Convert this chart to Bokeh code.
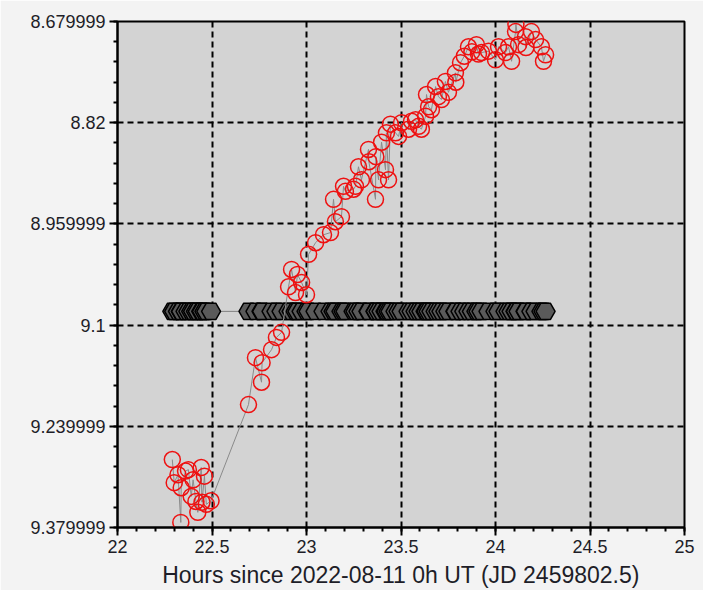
import numpy as np
from bokeh.plotting import figure
from bokeh.models import Range1d, FixedTicker, ColumnDataSource
from bokeh.embed import file_html
from bokeh.resources import INLINE

# ---- data ----
hours = [22.29, 22.30, 22.32, 22.335, 22.337, 22.36, 22.375, 22.39, 22.40, 22.415,
         22.425, 22.443, 22.447, 22.46, 22.47, 22.495,
         22.693, 22.730, 22.762, 22.765, 22.815, 22.841, 22.868, 22.905, 22.921,
         22.942, 22.952, 22.974,
         23.000, 23.011, 23.048, 23.090, 23.127, 23.143, 23.153, 23.185, 23.196,
         23.206, 23.249, 23.259, 23.275, 23.291, 23.328, 23.330, 23.365, 23.367,
         23.381, 23.397, 23.418, 23.423, 23.434, 23.444, 23.471, 23.487, 23.503,
         23.540, 23.556, 23.577, 23.593, 23.608, 23.630, 23.635, 23.646, 23.661,
         23.683, 23.698, 23.714, 23.735, 23.751, 23.788, 23.790, 23.815, 23.835,
         23.857, 23.875, 23.899, 23.910, 23.926, 23.963, 24.000, 24.016, 24.053,
         24.069, 24.085, 24.106, 24.108, 24.122, 24.159, 24.161, 24.190, 24.212,
         24.243, 24.254, 24.265]
var_mag = [9.286, 9.318, 9.307, 9.373, 9.325, 9.302, 9.300, 9.337, 9.314, 9.344,
           9.359, 9.297, 9.345, 9.309, 9.348, 9.343,
           9.210, 9.145, 9.179, 9.152, 9.134, 9.117, 9.110, 9.047, 9.023,
           9.055, 9.030, 9.041,
           9.058, 9.002, 8.986, 8.975, 8.972, 8.926, 8.957, 8.950, 8.908,
           8.915, 8.912, 8.908, 8.881, 8.899, 8.857, 8.874, 8.926, 8.867,
           8.899, 8.847, 8.885, 8.834, 8.899, 8.822, 8.834, 8.839, 8.820,
           8.829, 8.818, 8.816, 8.825, 8.829, 8.811, 8.781, 8.798, 8.802,
           8.770, 8.784, 8.788, 8.763, 8.778, 8.751, 8.764, 8.737, 8.728,
           8.715, 8.722, 8.712, 8.725, 8.723, 8.721, 8.733, 8.715, 8.723,
           8.715, 8.735, 8.694, 8.684, 8.712, 8.701, 8.716, 8.694, 8.705,
           8.715, 8.735, 8.726]
comp_mag = [9.081] * len(hours)

x_ticks = [22, 22.5, 23, 23.5, 24, 24.5, 25]
y_ticks = [8.68, 8.82, 8.96, 9.1, 9.24, 9.38]
y_tick_labels = ["8.679999", "8.82", "8.959999", "9.1", "9.239999", "9.379999"]
x_label = "Hours since 2022-08-11 0h UT (JD 2459802.5)"

FONT = "Liberation Sans"

p = figure(width=703, height=590, output_backend="svg", toolbar_location=None,
           x_range=Range1d(22, 25), y_range=Range1d(9.38, 8.68),
           min_border_left=117, min_border_top=21, min_border_right=19,
           min_border_bottom=56)
p.background_fill_color = "#d3d3d3"
p.border_fill_color = "#f3f3f3"
p.outline_line_color = "black"
p.outline_line_width = 2

x_minor = [v for v in np.round(np.arange(22, 25.0001, 0.1), 4)]
y_minor = [v for v in np.round(np.arange(8.68, 9.38001, 0.028), 4)]
p.xaxis.ticker = FixedTicker(ticks=x_ticks, minor_ticks=x_minor)
p.yaxis.ticker = FixedTicker(ticks=y_ticks, minor_ticks=y_minor)
p.yaxis.major_label_overrides = {t: l for t, l in zip(y_ticks, y_tick_labels)}
p.xaxis.axis_label = x_label

for ax in (p.xaxis, p.yaxis):
    ax.axis_line_color = "black"
    ax.axis_line_width = 2
    ax.major_tick_line_color = "black"
    ax.minor_tick_line_color = "black"
    ax.major_tick_line_width = 2
    ax.minor_tick_line_width = 2
    ax.major_tick_in = 0
    ax.minor_tick_in = 0
    ax.major_tick_out = 8
    ax.minor_tick_out = 4
    ax.major_label_text_font = FONT
    ax.major_label_text_font_size = "18px"
    ax.major_label_text_color = "#1e1e28"
    ax.major_label_standoff = 4
p.xaxis.axis_label_text_font = FONT
p.xaxis.axis_label_text_font_size = "23px"
p.xaxis.axis_label_text_font_style = "normal"
p.xaxis.axis_label_text_color = "#1e1e28"
p.xaxis.axis_label_standoff = 6

for g in (p.xgrid, p.ygrid):
    g.grid_line_color = "black"
    g.grid_line_dash = "6 4"
    g.grid_line_width = 2

src = ColumnDataSource(dict(t=hours, v=var_mag, c=comp_mag))

p.line("t", "c", source=src, line_color="#808080", line_width=1)
p.scatter("t", "c", source=src, marker="hex", size=19, fill_color="#5a5a5a",
          line_color="black", line_width=1.5)
p.line("t", "v", source=src, line_color="#8a8a8a", line_width=1)
p.scatter("t", "v", source=src, marker="circle", size=16, fill_color=None,
          line_color="#ee1111", line_width=1.5)

open("out.html", "w").write(file_html(p, INLINE))
